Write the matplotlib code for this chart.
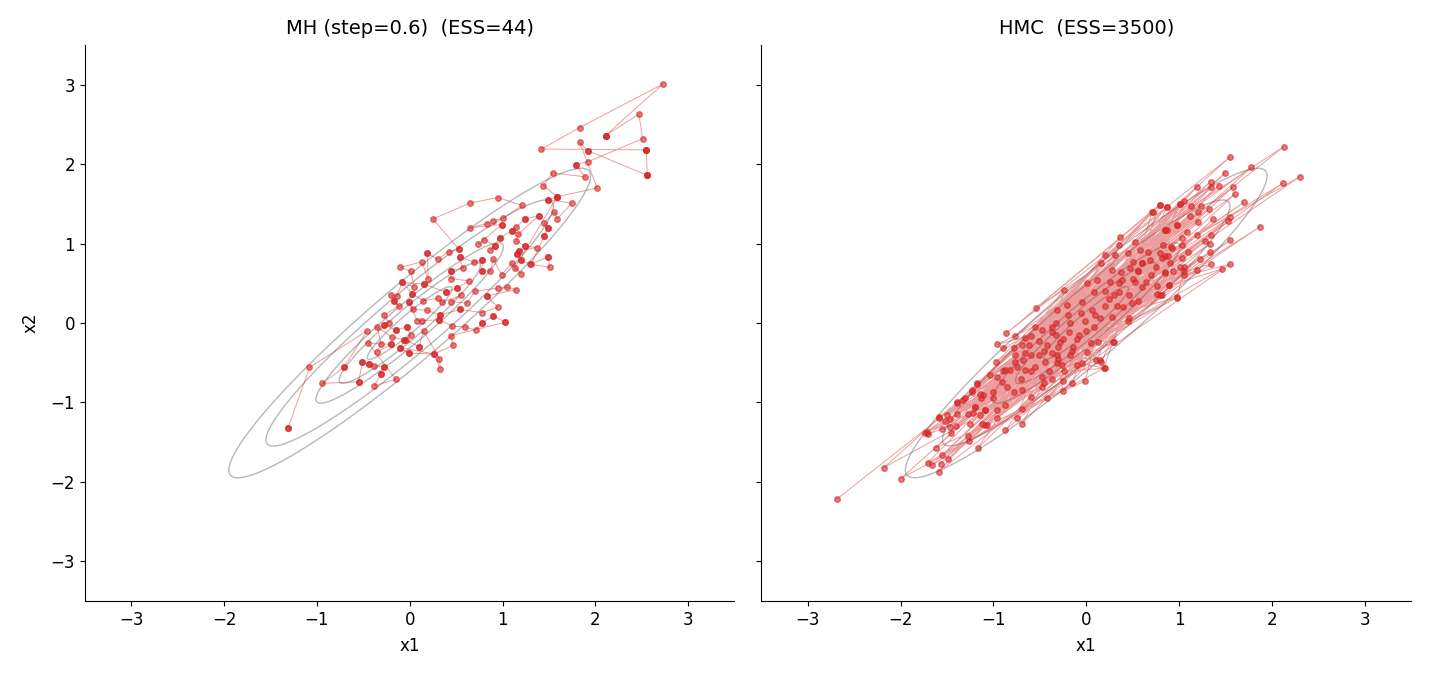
import numpy as np
import matplotlib
matplotlib.use("Agg")
import matplotlib.pyplot as plt
from itertools import zip_longest

# --- target density (correlated 2D gaussian) ---
rho = 0.95
# squared Mahalanobis radii of the drawn contour rings
contour_levels = [0.21, 0.58, 1.02, 2.40, 3.80]

# --- MH chain, in visiting order (repeated entries = rejected proposals) ---
mh_path = [
    (-1.31, -1.32), (-1.31, -1.32), (-1.08, -0.56), (-0.46, -0.10), (-0.71, -0.56), (-0.71, -0.56),
    (-0.94, -0.76), (-0.55, -0.74), (-0.55, -0.74), (-0.51, -0.49), (-0.51, -0.49), (-0.44, -0.52),
    (-0.44, -0.52), (-0.38, -0.54), (-0.28, -0.55), (-0.28, -0.55), (-0.31, -0.64), (-0.31, -0.64),
    (-0.38, -0.79), (-0.15, -0.71), (-0.45, -0.25), (-0.20, -0.27), (-0.20, -0.27), (-0.35, -0.36),
    (-0.31, -0.26), (-0.35, -0.05), (-0.19, -0.18), (-0.06, -0.21), (-0.06, -0.21), (-0.10, -0.32),
    (-0.01, -0.38), (0.26, -0.39), (0.33, -0.58), (0.32, -0.45), (0.15, -0.10), (0.10, -0.30),
    (0.10, -0.30), (-0.04, -0.21), (0.01, -0.15), (-0.03, -0.05), (-0.03, -0.05), (-0.15, -0.09),
    (-0.15, -0.09), (-0.28, -0.02), (-0.28, -0.02), (-0.22, 0.00), (-0.28, 0.10), (-0.12, 0.21),
    (-0.17, 0.28), (-0.17, 0.28), (-0.20, 0.35), (-0.14, 0.34), (-0.08, 0.51), (0.05, 0.45),
    (0.01, 0.65), (-0.10, 0.70), (0.13, 0.77), (0.20, 0.55), (0.19, 0.88), (0.19, 0.88),
    (0.30, 0.80), (0.42, 0.90), (0.53, 0.93), (0.53, 0.93), (0.25, 1.31), (0.65, 1.51),
    (0.95, 1.58), (1.21, 1.48), (1.01, 1.32), (0.90, 1.29), (0.83, 1.25), (0.65, 1.20),
    (0.99, 1.24), (0.99, 1.24), (0.74, 0.99), (0.80, 1.05), (0.92, 0.97), (0.92, 0.97),
    (0.87, 0.92), (0.97, 1.07), (0.97, 1.07), (1.10, 1.16), (1.10, 1.16), (1.15, 1.21),
    (1.24, 1.31), (1.24, 1.31), (1.39, 1.35), (1.39, 1.35), (1.17, 1.12), (1.15, 1.03),
    (1.24, 0.97), (1.24, 0.97), (1.37, 0.95), (1.18, 0.91), (1.18, 0.91), (1.16, 0.87),
    (1.16, 0.87), (1.20, 0.79), (1.20, 0.79), (1.30, 0.74), (1.49, 0.83), (1.49, 0.83),
    (1.51, 0.70), (1.31, 0.74), (1.45, 1.10), (1.45, 1.10), (1.49, 1.20), (1.49, 1.20),
    (1.45, 1.26), (1.56, 1.40), (1.59, 1.31), (1.75, 1.51), (1.49, 1.55), (1.49, 1.55),
    (1.59, 1.59), (1.59, 1.59), (1.44, 1.73), (1.54, 1.89), (1.89, 1.84), (1.79, 1.99),
    (1.79, 1.99), (1.92, 2.03), (2.51, 2.32), (2.47, 2.63), (2.11, 2.36), (2.11, 2.36),
    (2.11, 2.36), (2.73, 3.01), (1.83, 2.46), (1.42, 2.19), (2.55, 2.18), (2.55, 2.18),
    (2.55, 2.18), (2.56, 1.86), (2.56, 1.86), (2.56, 1.86), (1.92, 2.17), (1.92, 2.17),
    (1.83, 2.28), (2.02, 1.70), (1.59, 1.59), (1.13, 0.69), (1.20, 0.62), (1.10, 0.75),
    (0.99, 0.61), (0.90, 0.80), (0.87, 0.66), (0.78, 0.65), (0.78, 0.65), (0.78, 0.79),
    (0.78, 0.79), (0.69, 0.77), (0.54, 0.83), (0.54, 0.83), (0.57, 0.69), (0.45, 0.66),
    (0.45, 0.66), (0.44, 0.56), (0.64, 0.53), (0.51, 0.44), (0.51, 0.44), (0.39, 0.39),
    (0.39, 0.39), (0.15, 0.49), (0.15, 0.49), (-0.08, 0.51), (0.03, 0.37), (0.03, 0.37),
    (0.14, 0.28), (0.30, 0.31), (0.35, 0.26), (0.55, 0.35), (0.44, 0.27), (0.62, 0.25),
    (0.70, 0.40), (0.95, 0.44), (1.05, 0.45), (1.15, 0.42), (0.83, 0.34), (0.83, 0.34),
    (0.95, 0.20), (0.78, 0.13), (0.54, 0.17), (0.54, 0.17), (0.33, 0.10), (0.33, 0.10),
    (0.19, 0.16), (0.04, 0.17), (-0.01, 0.26), (-0.01, 0.26), (0.08, 0.03), (0.13, 0.03),
    (0.32, 0.04), (0.32, 0.04), (0.46, -0.04), (0.60, -0.05), (0.71, -0.09), (0.78, 0.00),
    (0.78, 0.00), (0.90, 0.09), (0.90, 0.09), (1.03, 0.01), (1.03, 0.01), (0.44, -0.16),
    (0.47, -0.28), (0.26, -0.39), (-0.10, -0.31), (-0.01, -0.38),
]

# --- HMC samples, grouped by where they sit along the ridge ---
hmc_lower_left = [
    (-2.69, -2.22), (-2.18, -1.82), (-2.00, -1.96), (-1.74, -1.38), (-1.70, -1.40), (-1.62, -1.57),
    (-1.71, -1.76), (-1.66, -1.79), (-1.59, -1.87), (-1.57, -1.77), (-1.55, -1.66), (-1.49, -1.71),
    (-1.59, -1.19), (-1.55, -1.34), (-1.50, -1.16), (-1.47, -1.21), (-1.40, -1.30), (-1.46, -1.38),
    (-1.39, -1.01), (-1.33, -0.97), (-1.27, -1.42), (-1.26, -1.48), (-1.17, -1.58), (-1.25, -1.27),
    (-1.22, -1.13), (-1.20, -1.06), (-1.14, -1.16), (-1.12, -1.27), (-1.09, -1.10), (-1.23, -0.84),
    (-1.18, -0.77), (-1.14, -0.89), (-1.13, -0.94), (-1.07, -1.29), (-1.39, -1.14), (-1.00, -0.95),
    (-0.85, -0.80), (-0.90, -0.60), (-0.75, -0.55), (-0.70, -0.70),
]
hmc_upper_right = [
    (2.13, 2.22), (1.55, 2.09), (1.78, 1.96), (2.30, 1.84), (2.12, 1.76), (1.50, 1.89),
    (1.34, 1.78), (1.43, 1.73), (1.19, 1.71), (1.35, 1.71), (1.58, 1.71), (1.60, 1.62),
    (1.70, 1.52), (1.05, 1.54), (1.13, 1.47), (1.24, 1.47), (1.32, 1.44), (0.87, 1.46),
    (0.79, 1.48), (0.72, 1.40), (1.20, 1.40), (1.12, 1.35), (1.37, 1.31), (1.55, 1.33),
    (1.53, 1.28), (1.21, 1.27), (1.87, 1.21), (0.98, 1.23), (0.87, 1.17), (1.09, 1.15),
    (1.19, 1.11), (1.35, 1.11), (1.03, 1.07), (1.28, 1.03), (1.55, 1.04), (1.33, 1.00),
    (0.92, 0.95), (0.83, 0.98), (0.82, 0.82), (0.88, 0.84), (1.03, 0.82), (1.33, 0.89),
    (1.23, 0.81), (1.01, 0.70), (1.05, 0.65), (1.34, 0.74), (1.55, 0.74), (1.46, 0.68),
    (1.19, 0.67), (0.94, 0.65), (0.85, 0.64), (1.05, 0.61), (0.89, 0.48), (0.98, 0.32),
    (0.79, 0.35), (1.01, 1.50), (0.85, 1.17), (1.10, 0.90), (0.90, 0.75), (0.75, 0.70),
]
hmc_mid_left = [
    (-0.54, 0.19), (-0.86, -0.13), (-0.77, -0.17), (-0.55, -0.05), (-0.48, -0.09), (-0.66, -0.19),
    (-0.59, -0.17), (-0.37, -0.05), (-0.33, -0.15), (-0.78, -0.31), (-0.69, -0.28), (-0.62, -0.28),
    (-0.51, -0.23), (-0.42, -0.28), (-0.37, -0.38), (-0.77, -0.40), (-0.66, -0.38), (-0.51, -0.40),
    (-0.97, -0.49), (-0.77, -0.49), (-0.68, -0.47), (-0.44, -0.49), (-0.32, -0.50), (-0.87, -0.59),
    (-0.82, -0.59), (-0.66, -0.59), (-0.59, -0.61), (-0.48, -0.68), (-0.37, -0.70), (-0.96, -0.68),
    (-1.04, -0.66), (-1.18, -0.76), (-0.91, -0.74), (-0.78, -0.87), (-0.69, -0.84), (-0.59, -0.93),
    (-0.48, -0.80), (-1.23, -0.87), (-1.11, -0.91), (-1.00, -0.87), (-1.31, -0.95), (-1.39, -1.00),
    (-1.20, -1.06), (-1.09, -1.10), (-0.96, -1.10), (-0.87, -1.03), (-0.69, -1.08), (-1.27, -1.14),
    (-0.96, -1.20), (-0.75, -1.20), (-0.69, -1.27), (-0.87, -1.35), (-1.52, -1.24), (-1.59, -1.18),
    (-1.72, -1.37), (-1.47, -1.31), (-1.09, -1.29), (-0.96, -0.27), (-0.90, -0.32), (-0.42, -0.95),
    (-0.25, -0.85), (-0.55, -0.55), (-0.45, -0.35), (-0.60, -0.40), (-0.40, -0.60), (-0.25, -0.20),
]
hmc_mid_right = [
    (0.71, 1.40), (0.79, 1.49), (0.87, 1.46), (1.01, 1.50), (0.36, 1.08), (0.35, 0.98),
    (0.53, 1.02), (0.85, 1.17), (0.98, 1.24), (0.79, 0.88), (0.85, 0.84), (0.91, 0.96),
    (1.03, 0.98), (0.58, 0.92), (0.67, 0.90), (0.45, 0.88), (0.20, 0.86), (0.31, 0.86),
    (0.50, 0.77), (0.60, 0.75), (0.69, 0.79), (0.16, 0.75), (0.28, 0.67), (0.37, 0.64),
    (0.47, 0.69), (0.56, 0.65), (0.85, 0.63), (1.05, 0.70), (0.01, 0.50), (0.12, 0.54),
    (0.26, 0.52), (0.39, 0.54), (0.53, 0.51), (0.64, 0.51), (0.76, 0.46), (0.89, 0.48),
    (-0.24, 0.42), (0.08, 0.39), (0.35, 0.39), (0.46, 0.35), (0.56, 0.28), (0.76, 0.36),
    (0.82, 0.35), (0.98, 0.33), (-0.21, 0.23), (-0.05, 0.27), (0.20, 0.21), (0.33, 0.21),
    (0.49, 0.25), (-0.32, 0.16), (-0.06, 0.12), (0.06, 0.16), (0.15, 0.06), (0.28, 0.08),
    (0.46, 0.06), (-0.33, 0.00), (-0.17, 0.00), (-0.01, 0.02), (0.08, -0.05), (0.45, 0.03),
    (-0.37, -0.11), (-0.19, -0.11), (-0.08, -0.15), (0.13, -0.24), (0.29, -0.24), (-0.28, -0.24),
    (-0.14, -0.30), (0.01, -0.36), (0.15, -0.47), (-0.32, -0.40), (-0.17, -0.40), (-0.26, -0.53),
    (-0.05, -0.51), (0.20, -0.57), (-0.24, -0.61), (0.60, 0.75), (0.56, 0.65), (0.10, 0.10),
    (0.30, 0.35), (0.50, 0.55), (0.70, 0.60), (-0.20, 0.10), (0.00, -0.10), (0.25, 0.30),
    (0.40, 0.20), (0.60, 0.45), (0.35, 0.50), (0.20, 0.40),
]
hmc_low_mid = [
    (0.30, -0.24), (0.19, -0.57), (0.11, -0.47), (0.16, -0.49), (-0.01, -0.73), (-0.15, -0.76),
    (-0.25, -0.73), (-0.10, -0.53), (-0.30, -0.30), (-0.46, -0.76), (-0.15, -0.35), (0.05, -0.25),
    (-0.30, -0.45), (-0.10, -0.20),
]

# successive HMC draws jump far along the ridge: visit the groups in turn
hmc_groups = [hmc_lower_left, hmc_upper_right, hmc_mid_left, hmc_mid_right, hmc_low_mid]
hmc_path = [p for row in zip_longest(*hmc_groups) for p in row if p is not None]

titles = ["MH (step=0.6)  (ESS=44)", "HMC  (ESS=3500)"]
red = "#d62728"

# density grid for the contour rings
g = np.linspace(-3.5, 3.5, 400)
X, Y = np.meshgrid(g, g)
D2 = (X**2 - 2 * rho * X * Y + Y**2) / (1 - rho**2)

fig, axes = plt.subplots(1, 2, figsize=(14.3, 6.76), dpi=100, sharey=True)
fig.subplots_adjust(left=0.0594, right=0.9867, bottom=0.111, top=0.9334, wspace=0.0415)

for ax, path, title in zip(axes, [mh_path, hmc_path], titles):
    xs, ys = np.array(path).T
    ax.contour(X, Y, D2, levels=contour_levels, colors="0.72", linewidths=1.0, zorder=1)
    ax.plot(xs, ys, "-", color=red, lw=0.7, alpha=0.45, zorder=2)
    ax.scatter(xs, ys, s=16, color=red, alpha=0.6, zorder=3)
    ax.set_xlim(-3.5, 3.5)
    ax.set_ylim(-3.5, 3.5)
    ax.set_xticks([-3, -2, -1, 0, 1, 2, 3])
    ax.set_yticks([-3, -2, -1, 0, 1, 2, 3])
    ax.set_title(title, fontsize=14, pad=8)
    ax.set_xlabel("x1", fontsize=12, labelpad=6)
    ax.tick_params(labelsize=12)
    ax.spines["top"].set_visible(False)
    ax.spines["right"].set_visible(False)

axes[0].set_ylabel("x2", fontsize=12, labelpad=8)

fig.savefig("out.png", dpi=100)
